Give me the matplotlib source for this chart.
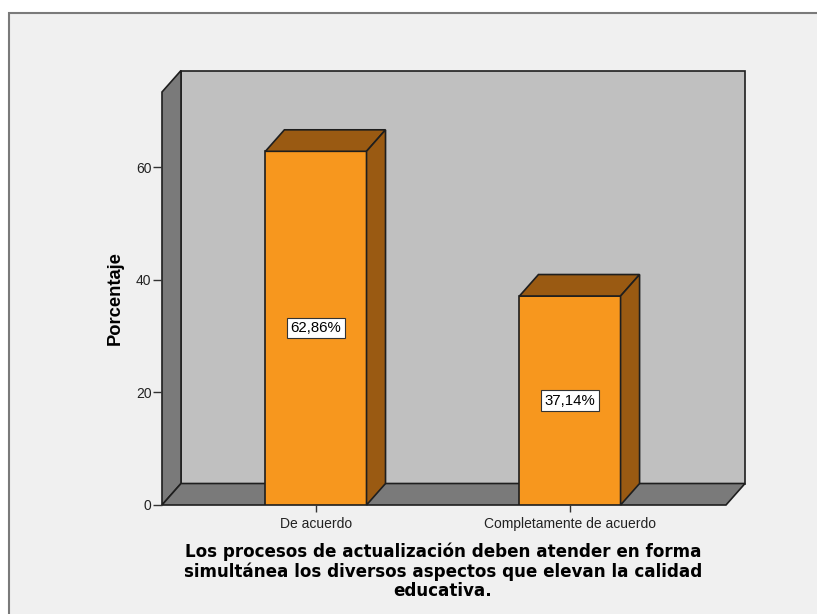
import matplotlib
matplotlib.use('Agg')
import matplotlib.pyplot as plt
from matplotlib.patches import Polygon, Rectangle

categorias = ['De acuerdo', 'Completamente de acuerdo']
porcentajes = [62.86, 37.14]
etiquetas = ['62,86%', '37,14%']
yticks = [0, 20, 40, 60]
titulo = ('Los procesos de actualización deben atender en forma\n'
          'simultánea los diversos aspectos que elevan la calidad\n'
          'educativa.')

W, H = 817, 614
fig = plt.figure(figsize=(W / 100, H / 100), dpi=100)
fig.patch.set_facecolor('white')
# marco gris claro de fondo
fig.add_artist(Rectangle((9 / W, -0.05), 1.05, 1.05 - 13 / H, transform=fig.transFigure,
                         facecolor='#f0f0f0', edgecolor='#7a7a7a', lw=1.5, zorder=-10))

ax = fig.add_axes([162 / W, 1 - 505 / H, 564 / W, 413 / H])
x0, x1 = -0.606, 1.614
ytop = 73.4
ax.set_xlim(x0, x1)
ax.set_ylim(0, ytop)
ax.patch.set_alpha(0)
for s in ax.spines.values():
    s.set_visible(False)

dx, dy = 0.0748, 3.82   # profundidad 3D
ancho = 0.398
pared = '#c0c0c0'
lado = '#7a7a7a'
borde = '#1e1e1e'
frente = '#f7971e'
oscuro = '#9a5a12'

# pared del fondo, pared izquierda y piso
ax.add_patch(Polygon([(x0 + dx, dy), (x1 + dx, dy), (x1 + dx, ytop + dy), (x0 + dx, ytop + dy)],
                     closed=True, fc=pared, ec=borde, lw=1.2, clip_on=False, zorder=1))
ax.add_patch(Polygon([(x0, 0), (x0 + dx, dy), (x0 + dx, ytop + dy), (x0, ytop)],
                     closed=True, fc=lado, ec=borde, lw=1.2, clip_on=False, zorder=1.5))
ax.add_patch(Polygon([(x0, 0), (x1, 0), (x1 + dx, dy), (x0 + dx, dy)],
                     closed=True, fc=lado, ec=borde, lw=1.2, clip_on=False, zorder=1.5))

xs = list(range(len(categorias)))
ax.bar(xs, porcentajes, width=ancho, color=frente, edgecolor=borde, lw=1.2, zorder=3)
for x, v, et in zip(xs, porcentajes, etiquetas):
    l, r = x - ancho / 2, x + ancho / 2
    ax.add_patch(Polygon([(l, v), (r, v), (r + dx, v + dy), (l + dx, v + dy)],
                         closed=True, fc=oscuro, ec=borde, lw=1.2, clip_on=False, zorder=3))
    ax.add_patch(Polygon([(r, 0), (r + dx, dy), (r + dx, v + dy), (r, v)],
                         closed=True, fc=oscuro, ec=borde, lw=1.2, clip_on=False, zorder=3))
    ax.text(x, v / 2, et, ha='center', va='center', fontsize=10.8, family='Liberation Sans',
            zorder=4, bbox=dict(boxstyle='square,pad=0.22', fc='white', ec='#333333', lw=0.8))

ax.set_xticks(xs)
ax.set_xticklabels(categorias, fontsize=10, family='Liberation Sans', color='#222222')
ax.set_yticks(yticks)
ax.set_yticklabels([str(t) for t in yticks], fontsize=10, family='Liberation Sans', color='#222222')
ax.tick_params(axis='y', length=6.5, width=1, color='#333333', pad=1)
ax.tick_params(axis='x', length=5, width=1, color='#333333', pad=3.5)

ax.set_ylabel('Porcentaje', fontsize=13.2, fontweight='bold', family='Liberation Sans', labelpad=9)
fig.text(443 / W, 1 - 571 / H, titulo, ha='center', va='center', fontsize=12.1,
         fontweight='bold', family='DejaVu Sans', linespacing=1.08)

fig.savefig('out.png', dpi=100)
